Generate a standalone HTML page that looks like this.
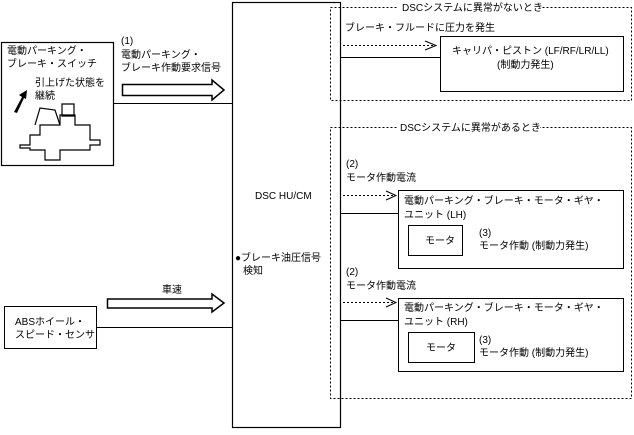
<!DOCTYPE html>
<html><head><meta charset="utf-8"><style>
body{margin:0;background:#fff}
svg text{font-family:"Liberation Sans","Noto Sans CJK JP",sans-serif;font-size:10px;fill:#000}
</style></head><body>
<svg width="634" height="430" xmlns="http://www.w3.org/2000/svg">
<g fill="none" stroke="#000">
<rect x="232.5" y="2.5" width="108" height="425" stroke-width="1.2"/>
<rect x="1.5" y="42.5" width="112" height="123" stroke-width="1.2"/>
<rect x="4.5" y="306.5" width="92" height="42"/>
<line x1="113" y1="103.5" x2="232" y2="103.5"/>
<line x1="96" y1="327.5" x2="232" y2="327.5"/>
<path d="M122.5,84.5 H212 V80 L224,90 L212,100 V95.5 H122.5 Z" stroke-width="1.5"/>
<path d="M107.5,299 H212 V294 L224,303 L212,312 V308 H107.5 Z" stroke-width="1.5"/>
<path d="M330.5,7.5 H631.5 V100.5 H330.5 Z" stroke-dasharray="2,2"/>
<path d="M330.5,127.5 H631.5 V398.5 H330.5 Z" stroke-dasharray="2,2"/>
<rect x="440.5" y="36.5" width="183" height="55"/>
<line x1="340" y1="57.5" x2="440" y2="57.5"/>
<line x1="343" y1="45.5" x2="434" y2="45.5" stroke-dasharray="2,2"/>
<path d="M425,41 L436,45.5 L425,50"/>
<rect x="398.5" y="190.5" width="225" height="78"/>
<rect x="408.5" y="225.5" width="54" height="30"/>
<line x1="340" y1="213.5" x2="398" y2="213.5"/>
<line x1="343" y1="195.5" x2="393" y2="195.5" stroke-dasharray="2,2"/>
<path d="M386,191 L396,195.5 L386,200"/>
<rect x="398.5" y="298.5" width="225" height="73"/>
<rect x="408.5" y="332.5" width="66" height="30"/>
<line x1="340" y1="320.5" x2="398" y2="320.5"/>
<line x1="343" y1="302.5" x2="393" y2="302.5" stroke-dasharray="2,2"/>
<path d="M386,298 L396,302.5 L386,307"/>
<path d="M20,145 H30 V135 H40 V125 H60 V115 H75 V125 H90 V140 H100 V145 H90 V150 H60 V160 H45 V150 H30 V148 H20 Z" stroke-width="1.2"/>
<path d="M35,125 L40,108 L55,110 L60,125 M62,104 h12 v12 h-12 z" stroke-width="1.2"/>
</g>
<path d="M14,112 L22,97 L19,95 L27,90 L26,99 L24,98 L17,113 Z" fill="#000"/>
<rect x="398" y="1" width="144" height="12" fill="#fff"/>
<text x="402" y="11">DSCシステムに異常がないとき</text>
<rect x="398" y="121" width="142" height="12" fill="#fff"/>
<text x="400" y="131">DSCシステムに異常があるとき</text>
<text x="7" y="54">電動パーキング・</text>
<text x="7" y="67">ブレーキ・スイッチ</text>
<text x="35" y="86">引上げた状態を</text>
<text x="35" y="99">継続</text>
<text x="121" y="44">(1)</text>
<text x="121" y="58">電動パーキング・</text>
<text x="121" y="71">ブレーキ作動要求信号</text>
<text x="162" y="293">車速</text>
<text x="15" y="325">ABSホイール・</text>
<text x="15" y="338">スピード・センサ</text>
<text x="255" y="199">DSC HU/CM</text>
<text x="235" y="261">●ブレーキ油圧信号</text>
<text x="243" y="274">検知</text>
<text x="345" y="31">ブレーキ・フルードに圧力を発生</text>
<text x="452" y="54">キャリパ・ピストン (LF/RF/LR/LL)</text>
<text x="497" y="68">(制動力発生)</text>
<text x="346" y="167">(2)</text>
<text x="346" y="181">モータ作動電流</text>
<text x="404" y="204">電動パーキング・ブレーキ・モータ・ギヤ・</text>
<text x="404" y="218">ユニット (LH)</text>
<text x="425" y="244">モータ</text>
<text x="479" y="236">(3)</text>
<text x="479" y="249">モータ作動 (制動力発生)</text>
<text x="346" y="275">(2)</text>
<text x="346" y="289">モータ作動電流</text>
<text x="404" y="311">電動パーキング・ブレーキ・モータ・ギヤ・</text>
<text x="404" y="325">ユニット (RH)</text>
<text x="426" y="351">モータ</text>
<text x="479" y="343">(3)</text>
<text x="479" y="356">モータ作動 (制動力発生)</text>
</svg>
</body></html>
